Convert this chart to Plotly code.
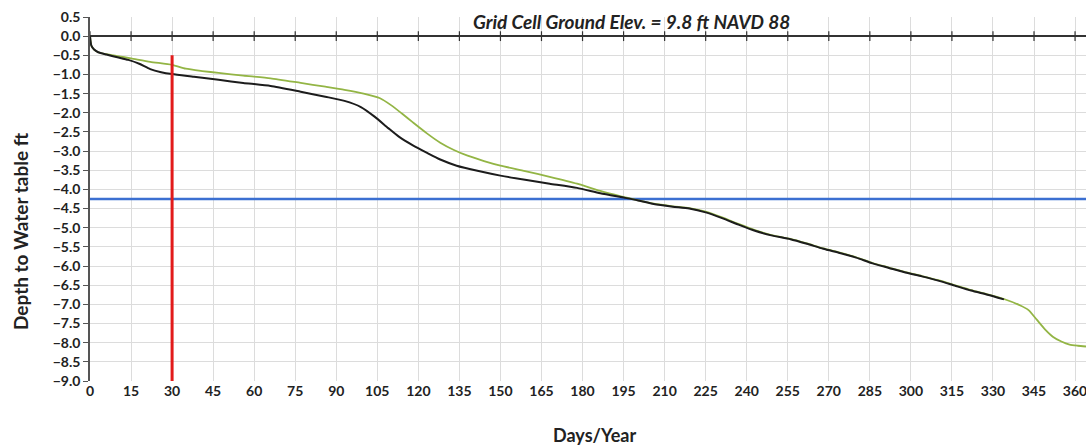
import plotly.graph_objects as go

# ---- data ----
black_days = [0, 0.5, 1.5, 3, 6, 10, 14, 18, 22, 26, 30, 38, 47, 56, 66, 77, 86, 93, 99, 104,
              109, 113, 118, 123, 128, 134, 142, 150, 159, 168, 178, 186.5, 194, 200, 206, 213,
              219, 225, 231, 237, 243, 249, 256, 262, 268, 274, 280, 286, 292, 298, 304, 310,
              316, 322, 328, 334]
black_depth = [0.0, -0.25, -0.35, -0.42, -0.48, -0.55, -0.62, -0.72, -0.86, -0.94, -0.99, -1.06,
               -1.14, -1.22, -1.30, -1.45, -1.58, -1.69, -1.85, -2.10, -2.40, -2.63, -2.85, -3.04,
               -3.22, -3.38, -3.52, -3.64, -3.75, -3.85, -3.96, -4.10, -4.20, -4.28, -4.38, -4.45,
               -4.50, -4.60, -4.75, -4.92, -5.08, -5.20, -5.30, -5.42, -5.55, -5.66, -5.78, -5.93,
               -6.05, -6.17, -6.27, -6.38, -6.51, -6.64, -6.75, -6.87]

green_days = [0, 0.5, 1.5, 3, 6, 10, 15, 22, 30, 35, 41, 47, 56, 66, 77, 86, 93, 100, 106, 110,
              114, 118, 123, 128, 133, 138, 144, 150, 159, 168, 178, 186.5, 194, 200, 206, 213,
              219, 225, 231, 237, 243, 249, 256, 262, 268, 274, 280, 286, 292, 298, 304, 310,
              316, 322, 328, 334, 340, 343, 346, 349, 352, 355, 358, 361, 364]
green_depth = [0.0, -0.25, -0.35, -0.42, -0.47, -0.52, -0.58, -0.67, -0.75, -0.85, -0.91, -0.96,
               -1.03, -1.10, -1.22, -1.32, -1.40, -1.50, -1.62, -1.80, -2.02, -2.25, -2.53, -2.78,
               -2.97, -3.12, -3.26, -3.38, -3.52, -3.67, -3.85, -4.04, -4.18, -4.28, -4.37, -4.44,
               -4.49, -4.58, -4.73, -4.90, -5.06, -5.19, -5.29, -5.41, -5.54, -5.65, -5.77, -5.92,
               -6.04, -6.16, -6.26, -6.37, -6.50, -6.63, -6.74, -6.86, -7.03, -7.15, -7.40, -7.65,
               -7.85, -7.97, -8.05, -8.08, -8.10]

red_day = 30
red_top = -0.5
blue_level = -4.25

x_ticks = list(range(0, 361, 15))
y_min, y_max = -9.0, 0.5
x_min, x_max = 0, 364

title_text = "Grid Cell Ground Elev. = 9.8 ft NAVD 88"
x_title = "Days/Year"
y_title = "Depth to Water table ft"

FONT = "Lato"
TXT = "#222222"

fig = go.Figure()

# tick marks on the zero axis line
fig.add_trace(go.Scatter(x=x_ticks, y=[0] * len(x_ticks), mode="markers",
                         marker=dict(symbol="line-ns-open", size=7, color="#333333",
                                     line=dict(color="#333333", width=1.2)),
                         hoverinfo="skip", showlegend=False))

fig.add_trace(go.Scatter(x=[x_min, x_max], y=[blue_level, blue_level], mode="lines",
                         line=dict(color="#3b6fd1", width=2.5), showlegend=False))

fig.add_trace(go.Scatter(x=green_days, y=green_depth, mode="lines",
                         line=dict(color="#93b545", width=1.8, shape="spline", smoothing=0.6),
                         showlegend=False))
fig.add_trace(go.Scatter(x=black_days, y=black_depth, mode="lines",
                         line=dict(color="#1c1c1c", width=2, shape="spline", smoothing=0.6),
                         showlegend=False))

fig.add_trace(go.Scatter(x=[red_day, red_day], y=[red_top, y_min], mode="lines",
                         line=dict(color="#e21b1b", width=3), showlegend=False))

fig.update_layout(
    width=1086, height=448,
    margin=dict(l=90, r=0, t=17, b=67),
    paper_bgcolor="white", plot_bgcolor="white",
    font=dict(family=FONT, color=TXT),
    xaxis=dict(range=[x_min, x_max], tickvals=x_ticks, showgrid=True, automargin=False,
               gridcolor="#dcdcdc", gridwidth=1, zeroline=False, showline=False,
               ticks="", ticklabeloverflow="allow",
               tickfont=dict(size=14, family=FONT, weight="bold", color=TXT)),
    yaxis=dict(range=[y_min, y_max], dtick=0.5, tick0=0, tickformat=".1f", automargin=False,
               showgrid=True, gridcolor="#dcdcdc", gridwidth=1,
               zeroline=True, zerolinecolor="#333333", zerolinewidth=1.5,
               showline=True, linecolor="#555555", linewidth=1.5,
               ticks="outside", ticklen=5, tickcolor="#555555",
               tickfont=dict(size=14, family=FONT, weight="bold", color=TXT)),
    annotations=[
        dict(text="<b><i>" + title_text + "</i></b>", xref="paper", yref="paper",
             x=(631 - 90) / 996, y=(381 - 22) / 364, showarrow=False,
             font=dict(size=19, family=FONT, color=TXT), xanchor="center", yanchor="middle"),
        dict(text="<b>" + x_title + "</b>", xref="paper", yref="paper",
             x=(594 - 90) / 996, y=-54 / 364, showarrow=False,
             font=dict(size=18, family=FONT, color=TXT), xanchor="center", yanchor="middle"),
        dict(text="<b>" + y_title + "</b>", xref="paper", yref="paper",
             x=-70 / 996, y=(381 - 231) / 364, showarrow=False, textangle=-90,
             font=dict(size=19, family=FONT, color=TXT), xanchor="center", yanchor="middle"),
    ],
)

fig.write_html("out.html", config={"displayModeBar": False},
               post_script="document.body.style.margin='0';")
